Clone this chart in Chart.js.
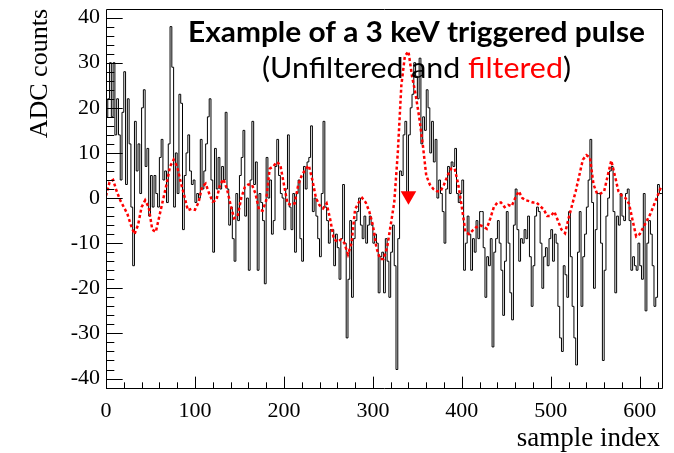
<!DOCTYPE html>
<html><head><meta charset="utf-8">
<script src="https://cdn.jsdelivr.net/npm/chart.js@4.4.1/dist/chart.umd.min.js"></script>
<style>html,body{margin:0;padding:0;background:#fff;}canvas{display:block;}</style>
</head><body>
<canvas id="c" width="674" height="453"></canvas>
<script>
// ---- data ----
const unfilteredStep = 2; // sample spacing of the unfiltered values below
const unfilteredAdc = [
 3,18,22,30,18,30,14,22,14,4,19,28,3,22,12,-2,-15,17,6,12,
 1,20,24,7,11,-4,5,-2,5,1,-2,9,13,4,6,-1,12,38,29,-2,
 10,1,23,21,-7,5,10,14,6,3,4,-1,1,0,13,2,6,12,18,22,
 4,-12,11,2,9,2,7,4,19,2,-6,-2,-9,-14,1,-5,5,9,15,-4,
 0,-16,4,17,3,8,-16,1,-1,-5,-19,9,0,4,-8,-5,7,13,5,1,
 0,-7,2,14,-2,-7,1,-12,1,4,-9,-14,7,2,8,9,16,-3,0,-4,
 -9,-13,1,17,-2,-5,-10,-7,-7,-15,-8,-11,-18,-9,3,-10,-31,-18,-5,-22,
 -9,-5,-3,0,-6,-9,-4,-10,-6,-4,-6,-10,-8,-10,-21,-13,-12,-21,-9,-14,
 -22,-12,-6,-15,-38,-9,6,5,14,17,0,14,20,23,30,27,22,31,12,18,
 15,24,20,10,17,8,13,0,4,1,-3,-10,2,7,1,8,7,11,1,-1,
 1,4,-16,-10,-4,-8,-16,-9,-12,-5,-9,-3,-3,-11,-22,-13,-15,-9,-33,-12,
 -9,-5,-10,-16,-26,-14,-3,-10,-21,-27,-6,2,-7,-14,-9,-10,-7,-9,-4,-13,
 -24,-15,-4,-2,-3,-10,-20,-13,-11,-15,-9,-7,-14,-8,-10,-24,-31,-34,-15,-17,
 -22,-3,-13,-24,-31,-37,-12,-3,-24,-13,-8,-2,4,13,-1,-20,-7,1,1,-10,
 -36,-16,-4,0,6,7,-3,-21,-4,-6,1,-4,-5,1,2,-5,-16,-13,-15,-16,
 -10,-15,-18,1,-25,-10,-5,-8,-15,-24,-22,3,1
];
const filteredStep = 4; // sample spacing of the filtered values below
const filteredAdc = [
 0.5,3.5,4,1.5,-0.5,-2,-3.5,-6,-8,-6,-2,-0.5,-2,-7,-7.5,-4,-0.5,3,7,8.5,
 7,3.5,0.5,-2.7,-2.4,-2.6,-1,2.5,3.2,1,-0.8,-0.5,2.8,4.2,2,-1.5,-4.5,-4,0,2.4,
 3,3,1,-2.6,-2.8,-0.6,6.5,7,8,7.3,3,-1.2,-1.5,-1.2,2.8,5,6.3,7.2,4,0,
 -1.6,-2.3,-1.2,-4.7,-9,-9.7,-9.2,-10,-12.5,-10,-2.5,-1,0,-1,-3,-6,-11,-13.5,-13.5,-11,
 -6,-1,10,25,31.5,32.5,27,23,18,12,5,3,2,1.5,1.5,3,5,6.5,6.5,3,
 -2,-7.5,-8,-7.2,-6.5,-6,-6.3,-6.8,-4.5,-2,-1,-1,-2,-1.5,-1.8,0,1.5,0,-0.5,-0.7,
 -1,-1,-1.8,-2.5,-4,-4,-3,-5,-7,-7.8,-4.5,-1.5,1.5,5,8.5,9.5,9,3,1,1,
 1.5,5,8.3,5,1.5,0.5,0,-1.3,-5,-8.5,-8,-6.5,-5,-3.5,-1.5,0.5,2.5
];
const triggerSample = [340];
const triggerAdc = [0.5];
const xTickValues = [0,100,200,300,400,500,600];
const yTickValues = [-40,-30,-20,-10,0,10,20,30,40];
const xAxisTitle = "sample index";
const yAxisTitle = "ADC counts";
const titleLine1 = "Example of a 3 keV triggered pulse";
const titleLine2Parts = [["(Unfiltered and ", "#000000"], ["filtered", "#ff0000"], [")", "#000000"]];

const X_MIN = 0, X_MAX = 625, Y_MIN = -42.1, Y_MAX = 41.9;

const unfilteredPoints = unfilteredAdc.map((v, i) => ({x: i * unfilteredStep, y: v}));
unfilteredPoints.push({x: X_MAX, y: unfilteredAdc[unfilteredAdc.length - 1]});
const filteredPoints = filteredAdc.map((v, i) => ({x: i * filteredStep, y: v}));
const triggerPoints = triggerSample.map((s, i) => ({x: s, y: triggerAdc[i]}));

const rootStyle = {
  id: 'rootStyle',
  afterDatasetsDraw(chart) {
    const {ctx, chartArea: a, scales: {x, y}} = chart;
    ctx.save();
    ctx.strokeStyle = '#000';
    ctx.lineWidth = 1;
    ctx.beginPath();
    ctx.rect(Math.round(a.left) + 0.5, Math.round(a.top) + 0.5, Math.round(a.right - a.left), Math.round(a.bottom - a.top));
    ctx.stroke();
    const w = a.right - a.left, h = a.bottom - a.top;
    ctx.beginPath();
    for (let v = Math.ceil(Y_MIN / 2) * 2; v <= Y_MAX; v += 2) {
      const py = Math.round(y.getPixelForValue(v)) + 0.5;
      const len = (v % 10 === 0) ? 0.03 * w : 0.015 * w;
      ctx.moveTo(a.left, py); ctx.lineTo(a.left + len, py);
    }
    for (let v = 0; v <= X_MAX; v += 20) {
      const px = Math.round(x.getPixelForValue(v)) + 0.5;
      const len = (v % 100 === 0) ? 0.03 * h : 0.015 * h;
      ctx.moveTo(px, a.bottom); ctx.lineTo(px, a.bottom - len);
    }
    ctx.stroke();
    ctx.restore();
  },
  afterDraw(chart) {
    const {ctx, chartArea: a} = chart;
    ctx.save();
    ctx.fillStyle = '#000';
    // axis titles
    ctx.font = '27px "Liberation Serif"';
    ctx.textAlign = 'right';
    ctx.textBaseline = 'alphabetic';
    ctx.fillText(xAxisTitle, a.right - 2, 446);
    ctx.save();
    ctx.translate(47, a.top);
    ctx.rotate(-Math.PI / 2);
    ctx.font = '26px "Liberation Serif"';
    ctx.textAlign = 'right';
    ctx.fillText(yAxisTitle, 0, 0);
    ctx.restore();
    // title line 1 (bold), fitted to the reference width
    ctx.textAlign = 'left';
    ctx.font = 'bold 28px Lato';
    let wNat = ctx.measureText(titleLine1).width;
    ctx.save();
    ctx.translate(188, 42);
    ctx.scale((645 - 188) / wNat, 1);
    ctx.fillText(titleLine1, 0, 0);
    ctx.restore();
    // title line 2 with red word
    ctx.font = '28px Lato';
    wNat = titleLine2Parts.reduce((s, p) => s + ctx.measureText(p[0]).width, 0);
    ctx.save();
    ctx.translate(262, 78);
    ctx.scale((571 - 262) / wNat, 1);
    let cx = 0;
    for (const [t, c] of titleLine2Parts) {
      ctx.fillStyle = c;
      ctx.fillText(t, cx, 0);
      cx += ctx.measureText(t).width;
    }
    ctx.restore();
    ctx.restore();
  }
};

new Chart(document.getElementById('c').getContext('2d'), {
  type: 'line',
  data: {
    datasets: [
      {type: 'scatter', data: triggerPoints, pointStyle: 'triangle', rotation: 180, pointRadius: 9,
       backgroundColor: '#ff0000', borderColor: '#ff0000', borderWidth: 0, showLine: false},
      {data: filteredPoints, borderColor: '#ff0000', borderWidth: 2.5, borderDash: [3, 2.5],
       pointRadius: 0, fill: false, tension: 0},
      {data: unfilteredPoints, borderColor: '#000000', borderWidth: 1, stepped: 'after',
       pointRadius: 0, fill: false}
    ]
  },
  options: {
    responsive: false, animation: false, devicePixelRatio: 1,
    layout: {padding: {left: 0, top: 7, right: 12, bottom: 0}},
    plugins: {legend: {display: false}, tooltip: {enabled: false}},
    scales: {
      x: {
        type: 'linear', min: X_MIN, max: X_MAX,
        grid: {display: false, drawTicks: false}, border: {display: false},
        afterBuildTicks: s => { s.ticks = xTickValues.map(v => ({value: v})); },
        ticks: {font: {family: 'Liberation Serif', size: 22}, color: '#000', padding: 10, maxRotation: 0, autoSkip: false},
        afterFit: s => { s.height = 65; s.paddingLeft = 0; s.paddingRight = 0; }
      },
      y: {
        type: 'linear', min: Y_MIN, max: Y_MAX,
        grid: {display: false, drawTicks: false}, border: {display: false},
        afterBuildTicks: s => { s.ticks = yTickValues.map(v => ({value: v})); },
        ticks: {font: {family: 'Liberation Serif', size: 22}, color: '#000', padding: 6, autoSkip: false},
        afterFit: s => { s.width = 106; s.paddingTop = 0; s.paddingBottom = 0; }
      }
    }
  },
  plugins: [rootStyle]
});
</script>
</body></html>
